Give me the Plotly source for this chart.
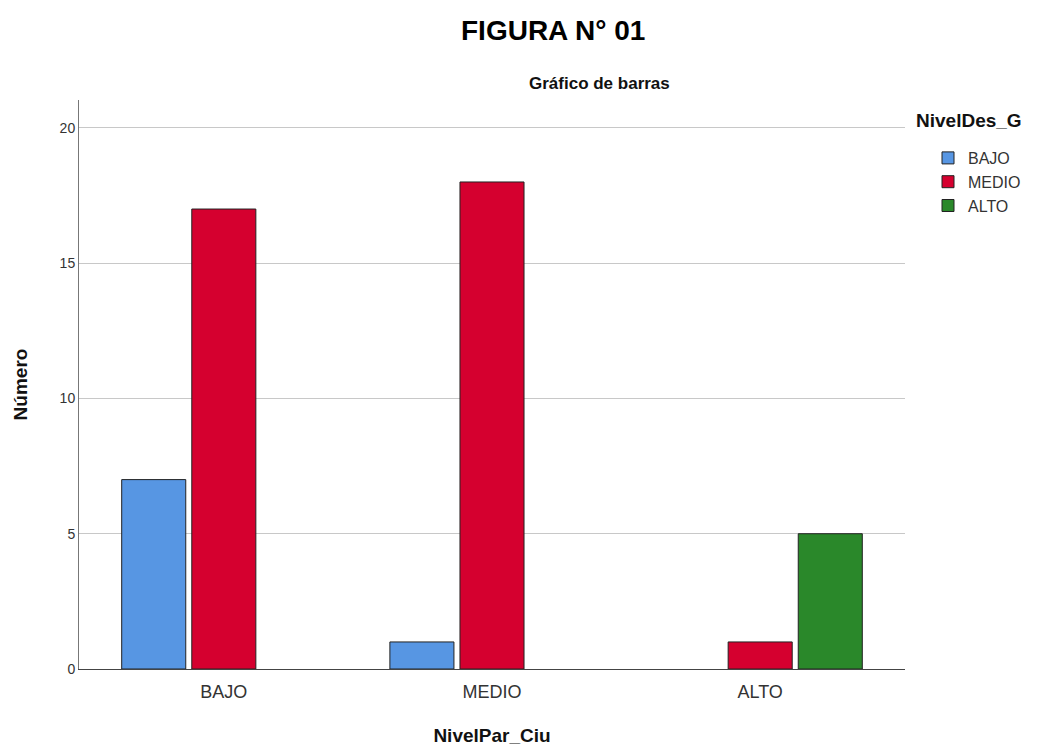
import plotly.graph_objects as go

categories = ["BAJO", "MEDIO", "ALTO"]
bajo_values = [7, 1, None]
medio_values = [17, 18, 1]
alto_values = [None, None, 5]

series = [
    ("BAJO", bajo_values, "#5796E3"),
    ("MEDIO", medio_values, "#D5002F"),
    ("ALTO", alto_values, "#2A882A"),
]

# page body has an 8px margin, so the figure is offset by 8px
W, H = 1039, 743
L, T, PW, PH = 71, 92, 826, 569


def px_x(x):
    return (x - 8 - L) / PW


def px_y(y):
    return (T + PH - (y - 8)) / PH


fig = go.Figure()
for name, values, color in series:
    fig.add_trace(go.Bar(
        x=categories,
        y=values,
        name=name,
        marker=dict(color=color, line=dict(color="#222222", width=1)),
    ))

fig.update_layout(
    barmode="group",
    bargap=0.216,
    bargroupgap=0.086,
    width=W,
    height=H,
    margin=dict(l=L, r=W - L - PW, t=T, b=H - T - PH),
    plot_bgcolor="white",
    paper_bgcolor="white",
    font=dict(family="Liberation Sans, Arial, sans-serif", color="#222222"),
    legend=dict(
        x=px_x(928), y=px_y(141), xanchor="left", yanchor="top",
        font=dict(size=16, color="#333333"),
        itemwidth=30,
        tracegroupgap=0,
    ),
    annotations=[
        dict(text="<b>FIGURA N° 01</b>", x=px_x(553), y=px_y(30),
             xref="paper", yref="paper", xanchor="center", yanchor="middle",
             showarrow=False, font=dict(size=28, color="#000000")),
        dict(text="<b>Gráfico de barras</b>", x=px_x(599), y=px_y(83),
             xref="paper", yref="paper", xanchor="center", yanchor="middle",
             showarrow=False, font=dict(size=17, color="#111111")),
        dict(text="<b>NivelDes_G</b>", x=px_x(914), y=px_y(121),
             xref="paper", yref="paper", xanchor="left", yanchor="middle",
             showarrow=False, font=dict(size=19, color="#111111")),
    ],
)

fig.update_xaxes(
    range=[-0.54, 2.54],
    automargin=False,
    showline=True, linecolor="#444444", linewidth=1,
    ticks="", ticklabelstandoff=6, tickfont=dict(size=18, color="#333333"),
    title=dict(text="<b>NivelPar_Ciu</b>", font=dict(size=19, color="#111111"), standoff=28),
)
fig.update_yaxes(
    range=[0, 21.03],
    tickvals=[0, 5, 10, 15, 20],
    automargin=False,
    showline=True, linecolor="#777777", linewidth=1,
    showgrid=True, gridcolor="#C8C8C8", gridwidth=1,
    zeroline=False,
    ticks="", tickfont=dict(size=14, color="#333333"),
    title=dict(text="<b>Número</b>", font=dict(size=19, color="#111111"), standoff=26),
)

fig.write_html("out.html")
